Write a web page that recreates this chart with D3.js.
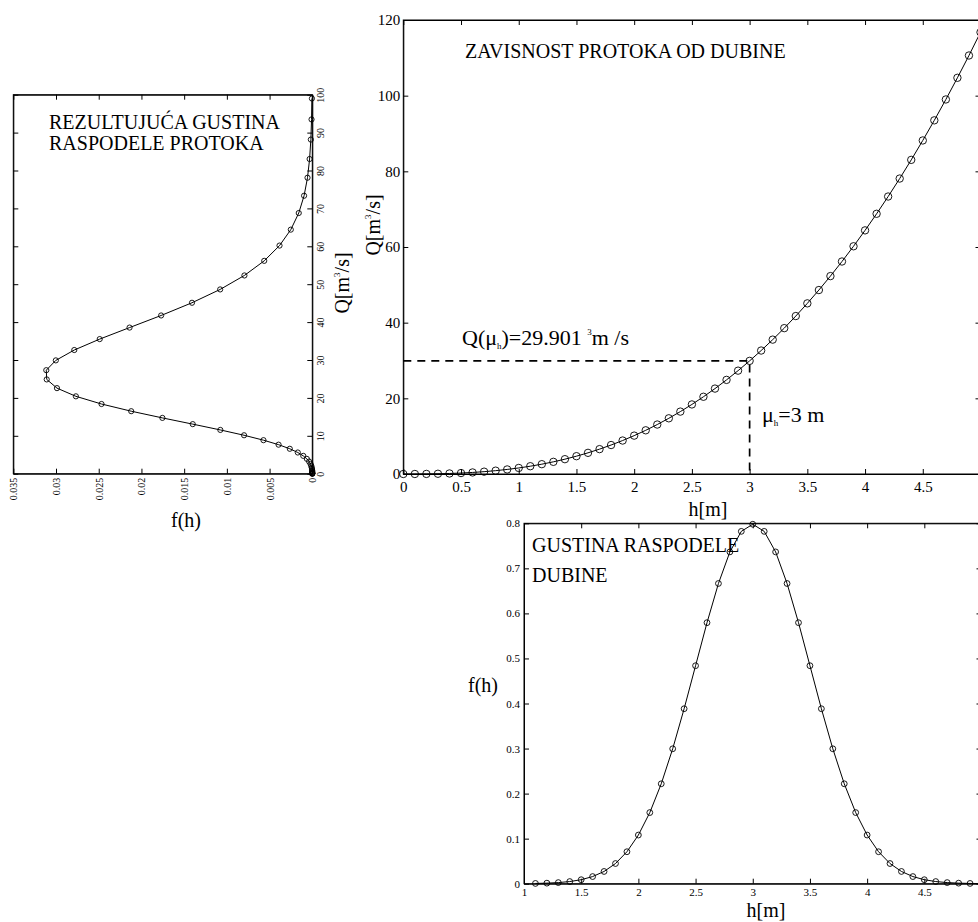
<!DOCTYPE html>
<html>
<head>
<meta charset="utf-8">
<script src="https://cdn.jsdelivr.net/npm/d3@7"></script>
<style>
  body { margin: 0; background: #fff; }
  svg { display: block; font-family: "Liberation Serif", "Times New Roman", serif; }
  .axis path, .axis line { stroke: #000; stroke-width: 1; fill: none; }
  .axis text { fill: #000; font-family: "Liberation Serif", "Times New Roman", serif; }
</style>
</head>
<body>
<svg id="chart" width="978" height="922"></svg>
<script>
// Rating curve: depth h [m] and discharge Q [m3/s]
const depthH = [0, 0.1, 0.2, 0.3, 0.4, 0.5, 0.6, 0.7, 0.8, 0.9,
  1.0, 1.1, 1.2, 1.3, 1.4, 1.5, 1.6, 1.7, 1.8, 1.9,
  2.0, 2.1, 2.2, 2.3, 2.4, 2.5, 2.6, 2.7, 2.8, 2.9,
  3.0, 3.1, 3.2, 3.3, 3.4, 3.5, 3.6, 3.7, 3.8, 3.9,
  4.0, 4.1, 4.2, 4.3, 4.4, 4.5, 4.6, 4.7, 4.8, 4.9, 5.0];
const flowQ = [0, 0.0034, 0.0219, 0.0644, 0.1387, 0.2515, 0.409, 0.617, 0.881, 1.206,
  1.597, 2.059, 2.597, 3.215, 3.918, 4.709, 5.594, 6.575, 7.657, 8.845,
  10.142, 11.551, 13.077, 14.722, 16.492, 18.388, 20.415, 22.576, 24.877, 27.315,
  29.901, 32.634, 35.516, 38.553, 41.749, 45.103, 48.622, 52.308, 56.165, 60.190,
  64.395, 68.780, 73.343, 78.093, 83.030, 88.160, 93.480, 98.996, 104.722, 110.618, 116.758];

// Depth density f(h)
const densityH = [1.1, 1.2, 1.3, 1.4, 1.5, 1.6, 1.7, 1.8, 1.9,
  2.0, 2.1, 2.2, 2.3, 2.4, 2.5, 2.6, 2.7, 2.8, 2.9,
  3.0, 3.1, 3.2, 3.3, 3.4, 3.5, 3.6, 3.7, 3.8, 3.9,
  4.0, 4.1, 4.2, 4.3, 4.4, 4.5, 4.6, 4.7, 4.8, 4.9, 5.0];
const densityF = [0.000584, 0.001224, 0.002465, 0.004768, 0.008864, 0.01583, 0.02717, 0.04479, 0.07095,
  0.1080, 0.1579, 0.2218, 0.2995, 0.3884, 0.4839, 0.5794, 0.6664, 0.7365, 0.7821,
  0.7979, 0.7821, 0.7365, 0.6664, 0.5794, 0.4839, 0.3884, 0.2995, 0.2218, 0.1579,
  0.1080, 0.07095, 0.04479, 0.02717, 0.01583, 0.008864, 0.004768, 0.002465, 0.001224, 0.000584, 0.000268];

// Resulting discharge density
const resultQ = [0.0034, 0.0219, 0.0644, 0.1387, 0.2515, 0.409, 0.617, 0.881, 1.206,
  1.597, 2.059, 2.597, 3.215, 3.918, 4.709, 5.594, 6.575, 7.657, 8.845,
  10.142, 11.551, 13.077, 14.722, 16.492, 18.388, 20.415, 22.576, 24.877, 27.315,
  29.901, 32.634, 35.516, 38.553, 41.749, 45.103, 48.622, 52.308, 56.165, 60.190,
  64.395, 68.780, 73.343, 78.093, 83.030, 88.160, 93.480, 98.996];
const resultF = [0.0000004, 0.0000004, 0.0000007, 0.0000012, 0.0000022, 0.0000044, 0.0000086, 0.000017, 0.000033,
  0.000063, 0.000117, 0.000212, 0.000374, 0.000639, 0.001059, 0.001698, 0.002635, 0.003948, 0.005716,
  0.007988, 0.010766, 0.013994, 0.017548, 0.021199, 0.024674, 0.027673, 0.029888, 0.031088, 0.031140,
  0.030022, 0.027862, 0.024886, 0.021392, 0.017696, 0.014082, 0.010785, 0.007945, 0.005628, 0.003837,
  0.002516, 0.001586, 0.000962, 0.000561, 0.000315, 0.000170, 0.000088, 0.000044];

// Tick values
const curveXTicks = [0, 0.5, 1, 1.5, 2, 2.5, 3, 3.5, 4, 4.5, 5];
const curveYTicks = [0, 20, 40, 60, 80, 100, 120];
const depthXTicks = [1, 1.5, 2, 2.5, 3, 3.5, 4, 4.5, 5];
const depthYTicks = [0, 0.1, 0.2, 0.3, 0.4, 0.5, 0.6, 0.7, 0.8];
const resultQTicks = [0, 10, 20, 30, 40, 50, 60, 70, 80, 90, 100];
const resultFTicks = [0, 0.005, 0.01, 0.015, 0.02, 0.025, 0.03, 0.035];

const meanDepth = 3;
const meanIndex = depthH.indexOf(meanDepth);
const meanFlow = flowQ[meanIndex];

const svg = d3.select("#chart");
svg.append("rect").attr("width", 978).attr("height", 922).attr("fill", "#fff");

const fmt = d => String(d);
// the last h tick sits on the page edge, so it carries no label
const edgeFmt = d => (d === 5 ? "" : String(d));

function frame(g, x0, y0, x1, y1) {
  g.append("rect")
    .attr("x", x0).attr("y", y0)
    .attr("width", x1 - x0).attr("height", y1 - y0)
    .attr("fill", "none").attr("stroke", "#000").attr("stroke-width", 1);
}

function series(g, xs, ys, x, y, r) {
  const pts = xs.map((v, i) => [x(v), y(ys[i])]);
  g.append("path")
    .attr("d", d3.line()(pts))
    .attr("fill", "none").attr("stroke", "#000").attr("stroke-width", 1);
  g.selectAll(null).data(pts).join("circle")
    .attr("cx", d => d[0]).attr("cy", d => d[1]).attr("r", r)
    .attr("fill", "none").attr("stroke", "#000").attr("stroke-width", 0.9);
}

// ---------- Rating curve Q(h) ----------
{
  const x = d3.scaleLinear().domain([0, 5]).range([403.3, 980.5]);
  const y = d3.scaleLinear().domain([0, 120]).range([474, 20]);
  const g = svg.append("g");

  g.append("g").attr("class", "axis").attr("transform", `translate(0,${y(0)})`)
    .call(d3.axisBottom(x).tickValues(curveXTicks).tickFormat(edgeFmt).tickSize(-5).tickSizeOuter(0).tickPadding(7))
    .call(s => s.selectAll("text").attr("font-size", 15));
  g.append("g").attr("class", "axis").attr("transform", `translate(0,${y(120)})`)
    .call(d3.axisTop(x).tickValues(curveXTicks).tickFormat("").tickSize(-5).tickSizeOuter(0));
  g.append("g").attr("class", "axis").attr("transform", `translate(${x(0)},0)`)
    .call(d3.axisLeft(y).tickValues(curveYTicks).tickFormat(fmt).tickSize(-5).tickSizeOuter(0).tickPadding(3))
    .call(s => s.selectAll("text").attr("font-size", 15));
  g.append("g").attr("class", "axis").attr("transform", `translate(${x(5)},0)`)
    .call(d3.axisRight(y).tickValues(curveYTicks).tickFormat("").tickSize(-5).tickSizeOuter(0));
  frame(g, x(0), y(120), x(5), y(0));

  // guides at the mean depth
  g.append("path")
    .attr("d", d3.line()([[x(0), y(meanFlow)], [x(meanDepth), y(meanFlow)], [x(meanDepth), y(0)]]))
    .attr("fill", "none").attr("stroke", "#000").attr("stroke-width", 1.7)
    .attr("stroke-dasharray", "8,6");

  series(g, depthH, flowQ, x, y, 3.7);

  g.append("text").attr("x", 465).attr("y", 58).attr("font-size", 20)
    .text("ZAVISNOST PROTOKA OD DUBINE");

  const a1 = g.append("text").attr("x", 462).attr("y", 345).attr("font-size", 22);
  a1.append("tspan").text("Q(μ");
  a1.append("tspan").attr("font-size", 9).attr("dy", 4).text("h");
  a1.append("tspan").attr("dy", -4).text(")=" + d3.format(".3f")(meanFlow) + " ");
  a1.append("tspan").attr("font-size", 9).attr("dy", -10).text("3");
  a1.append("tspan").attr("dy", 10).text("m /s");

  const a2 = g.append("text").attr("x", 762).attr("y", 422).attr("font-size", 22);
  a2.append("tspan").text("μ");
  a2.append("tspan").attr("font-size", 9).attr("dy", 4).text("h");
  a2.append("tspan").attr("dy", -4).text("=" + meanDepth + " m");

  g.append("text").attr("x", 708).attr("y", 516).attr("font-size", 20)
    .attr("text-anchor", "middle").text("h[m]");

  const yl = g.append("text").attr("transform", "translate(380,225) rotate(-90)")
    .attr("font-size", 20).attr("text-anchor", "middle");
  yl.append("tspan").text("Q[m");
  yl.append("tspan").attr("font-size", 9).attr("dy", -9).text("3");
  yl.append("tspan").attr("dy", 9).text("/s]");
}

// ---------- Depth density f(h) ----------
{
  const x = d3.scaleLinear().domain([1, 5]).range([524, 981.5]);
  const y = d3.scaleLinear().domain([0, 0.8]).range([883.7, 523.3]);
  const g = svg.append("g");

  g.append("g").attr("class", "axis").attr("transform", `translate(0,${y(0)})`)
    .call(d3.axisBottom(x).tickValues(depthXTicks).tickFormat(edgeFmt).tickSize(-5).tickSizeOuter(0).tickPadding(5))
    .call(s => s.selectAll("text").attr("font-size", 11));
  g.append("g").attr("class", "axis").attr("transform", `translate(0,${y(0.8)})`)
    .call(d3.axisTop(x).tickValues(depthXTicks).tickFormat("").tickSize(-5).tickSizeOuter(0));
  g.append("g").attr("class", "axis").attr("transform", `translate(${x(1)},0)`)
    .call(d3.axisLeft(y).tickValues(depthYTicks).tickFormat(fmt).tickSize(-5).tickSizeOuter(0).tickPadding(4))
    .call(s => s.selectAll("text").attr("font-size", 11));
  g.append("g").attr("class", "axis").attr("transform", `translate(${x(5)},0)`)
    .call(d3.axisRight(y).tickValues(depthYTicks).tickFormat("").tickSize(-5).tickSizeOuter(0));
  frame(g, x(1), y(0.8), x(5), y(0));

  g.append("text").attr("x", 532).attr("y", 552).attr("font-size", 20).text("GUSTINA RASPODELE");
  g.append("text").attr("x", 532).attr("y", 582).attr("font-size", 20).text("DUBINE");

  series(g, densityH, densityF, x, y, 2.9);

  g.append("text").attr("x", 766).attr("y", 917).attr("font-size", 20)
    .attr("text-anchor", "middle").text("h[m]");
  g.append("text").attr("x", 468).attr("y", 692).attr("font-size", 20).text("f(h)");
}

// ---------- Resulting discharge density (rotated layout) ----------
{
  const x = d3.scaleLinear().domain([0, 0.035]).range([312.3, 13.3]);
  const y = d3.scaleLinear().domain([0, 100]).range([473.7, 94.7]);
  const g = svg.append("g");

  // density axis along the bottom, labels read upward
  g.append("g").attr("class", "axis").attr("transform", `translate(0,${y(0)})`)
    .call(d3.axisBottom(x).tickValues(resultFTicks).tickFormat(fmt).tickSize(-5).tickSizeOuter(0))
    .call(s => s.selectAll("text")
      .attr("font-size", 10).attr("y", null).attr("dy", "0.35em")
      .attr("text-anchor", "end")
      .attr("transform", "translate(0,4) rotate(-90)"));
  g.append("g").attr("class", "axis").attr("transform", `translate(0,${y(100)})`)
    .call(d3.axisTop(x).tickValues(resultFTicks).tickFormat("").tickSize(-5).tickSizeOuter(0));
  // discharge axis along the right side
  g.append("g").attr("class", "axis").attr("transform", `translate(${x(0)},0)`)
    .call(d3.axisRight(y).tickValues(resultQTicks).tickFormat(fmt).tickSize(-5).tickSizeOuter(0))
    .call(s => s.selectAll("text")
      .attr("font-size", 10).attr("x", null).attr("dy", "0.72em")
      .attr("text-anchor", "middle")
      .attr("transform", "translate(4,0) rotate(-90)"));
  g.append("g").attr("class", "axis").attr("transform", `translate(${x(0.035)},0)`)
    .call(d3.axisLeft(y).tickValues(resultQTicks).tickFormat("").tickSize(-5).tickSizeOuter(0));
  frame(g, x(0.035), y(100), x(0), y(0));

  series(g, resultF, resultQ, x, y, 2.6);

  g.append("text").attr("x", 49).attr("y", 129).attr("font-size", 20).text("REZULTUJUĆA GUSTINA");
  g.append("text").attr("x", 49).attr("y", 150).attr("font-size", 20).text("RASPODELE PROTOKA");

  g.append("text").attr("x", 186).attr("y", 527).attr("font-size", 20)
    .attr("text-anchor", "middle").text("f(h)");

  const ql = g.append("text").attr("transform", "translate(349,283) rotate(-90)")
    .attr("font-size", 20).attr("text-anchor", "middle");
  ql.append("tspan").text("Q[m");
  ql.append("tspan").attr("font-size", 9).attr("dy", -9).text("3");
  ql.append("tspan").attr("dy", 9).text("/s]");
}
</script>
</body>
</html>
